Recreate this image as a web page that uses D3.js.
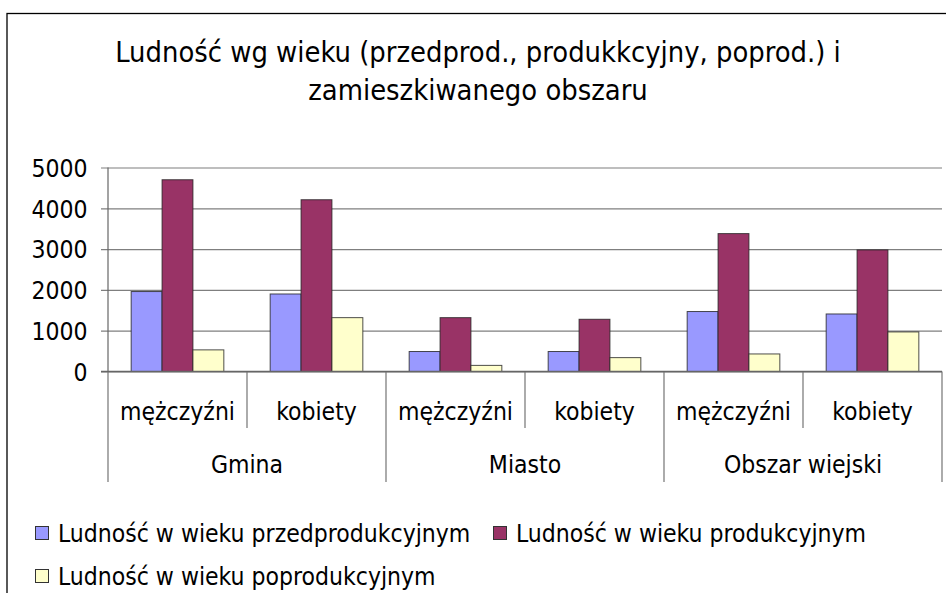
<!DOCTYPE html>
<html>
<head>
<meta charset="utf-8">
<script src="https://cdn.jsdelivr.net/npm/d3@7"></script>
<style>
  body { margin: 0; background: #fff; }
  text { font-family: "DejaVu Sans Condensed", "DejaVu Sans", sans-serif; fill: #000; }
</style>
</head>
<body>
<div id="main"></div>
<script>
const ctx = {
    w: 946,
    h: 593,
    FONT: 24.5,
    TITLE_FONT: 28.8,
    plot: {left: 108, right: 942, top: 167.5, bottom: 371.5},
};

// data
const titleLines = ["Ludność wg wieku (przedprod., produkkcyjny, poprod.) i", "zamieszkiwanego obszaru"];
const groups = ["Gmina", "Miasto", "Obszar wiejski"];
const subs = ["mężczyźni", "kobiety"];
const seriesNames = ["Ludność w wieku przedprodukcyjnym",
                     "Ludność w wieku produkcyjnym",
                     "Ludność w wieku poprodukcyjnym"];
const seriesColors = ["#9999FF", "#993366", "#FFFFCC"];
const preProd  = [1960, 1900, 490, 490, 1470, 1410];
const prod     = [4700, 4210, 1320, 1280, 3380, 2980];
const postProd = [530, 1320, 150, 340, 430, 970];
const yTicks = [0, 1000, 2000, 3000, 4000, 5000];

function buildRows(){
    let rows = [];
    groups.forEach(function(g, gi){
        subs.forEach(function(s, si){
            let i = gi*subs.length + si;
            rows.push({key: g + "|" + s, group: g, sub: s,
                       values: [preProd[i], prod[i], postProd[i]]});
        });
    });
    return rows;
}

function createViz(){
    let svg = d3.select("#main").append("svg")
                .attr("width", ctx.w)
                .attr("height", ctx.h);
    let rows = buildRows();
    let p = ctx.plot;

    // chart border
    svg.append("rect")
       .attr("x", 7).attr("y", 13.5)
       .attr("width", ctx.w + 10).attr("height", ctx.h + 10)
       .attr("fill", "none").attr("stroke", "#000").attr("stroke-width", 1.3);

    // title
    svg.append("g").selectAll("text")
       .data(titleLines)
       .enter()
       .append("text")
       .attr("x", 478)
       .attr("y", (d, i) => 62 + i*38)
       .attr("text-anchor", "middle")
       .attr("font-size", ctx.TITLE_FONT)
       .text(d => d);

    let x0 = d3.scaleBand()
               .domain(rows.map(d => d.key))
               .range([p.left, p.right])
               .paddingInner(1/3)
               .paddingOuter(1/6);
    let x1 = d3.scaleBand()
               .domain([0, 1, 2])
               .range([0, x0.bandwidth()]);
    let y = d3.scaleLinear()
              .domain([0, 5000])
              .range([p.bottom, p.top]);

    // gridlines + y axis
    let yAxis = d3.axisLeft(y)
                  .tickValues(yTicks)
                  .tickFormat(d3.format("d"))
                  .tickSize(-(p.right - p.left))
                  .tickSizeOuter(0)
                  .tickPadding(20.5);
    let yg = svg.append("g")
                .attr("transform", `translate(${p.left},0)`)
                .call(yAxis);
    yg.select(".domain").remove();
    yg.selectAll(".tick line")
      .attr("x1", -7)
      .attr("stroke", "#7f7f7f")
      .attr("stroke-width", 1.2);
    yg.selectAll(".tick text")
      .attr("font-size", ctx.FONT)
      .attr("font-family", null)
      .attr("dy", "0.36em");
    yg.attr("font-family", null).attr("font-size", null);
    svg.append("line")
       .attr("x1", p.left).attr("x2", p.left)
       .attr("y1", p.top).attr("y2", p.bottom)
       .attr("stroke", "#666").attr("stroke-width", 1.2);

    // bars
    svg.append("g")
       .selectAll("g")
       .data(rows)
       .enter()
       .append("g")
       .attr("transform", d => `translate(${x0(d.key)},0)`)
       .selectAll("rect")
       .data(d => d.values.map((v, i) => ({i: i, v: v})))
       .enter()
       .append("rect")
       .attr("x", d => x1(d.i))
       .attr("width", x1.bandwidth())
       .attr("y", d => y(d.v))
       .attr("height", d => y(0) - y(d.v))
       .attr("fill", d => seriesColors[d.i])
       .attr("stroke", "#222")
       .attr("stroke-opacity", 0.8)
       .attr("stroke-width", 1);

    // category axis: separators and labels
    let step = x0.step();
    let bounds = d3.range(rows.length + 1).map(i => p.left + i*step);
    svg.append("g")
       .selectAll("line")
       .data(bounds)
       .enter()
       .append("line")
       .attr("x1", d => d).attr("x2", d => d)
       .attr("y1", p.bottom)
       .attr("y2", (d, i) => (i % subs.length === 0) ? 482 : 428)
       .attr("stroke", "#7f7f7f")
       .attr("stroke-width", 1.3);
    svg.append("line")
       .attr("x1", p.left - 7).attr("x2", p.right)
       .attr("y1", p.bottom).attr("y2", p.bottom)
       .attr("stroke", "#666").attr("stroke-width", 1.3);

    svg.append("g")
       .selectAll("text")
       .data(rows)
       .enter()
       .append("text")
       .attr("x", d => x0(d.key) + x0.bandwidth()/2)
       .attr("y", 420)
       .attr("text-anchor", "middle")
       .attr("font-size", ctx.FONT)
       .text(d => d.sub);
    svg.append("g")
       .selectAll("text")
       .data(groups)
       .enter()
       .append("text")
       .attr("x", (d, i) => p.left + (i + 0.5)*step*subs.length)
       .attr("y", 473)
       .attr("text-anchor", "middle")
       .attr("font-size", ctx.FONT)
       .text(d => d);

    // legend
    let legendPos = [[35, 526], [493, 526], [35, 569]];
    let lg = svg.append("g")
                .selectAll("g")
                .data(seriesNames)
                .enter()
                .append("g")
                .attr("transform", (d, i) => `translate(${legendPos[i][0]},${legendPos[i][1]})`);
    lg.append("rect")
      .attr("x", 0.5).attr("y", 0.5)
      .attr("width", 13).attr("height", 13)
      .attr("fill", (d, i) => seriesColors[i])
      .attr("stroke", "#333").attr("stroke-width", 1);
    lg.append("text")
      .attr("x", 23)
      .attr("y", 15.5)
      .attr("font-size", ctx.FONT)
      .text(d => d);
}

createViz();
</script>
</body>
</html>
